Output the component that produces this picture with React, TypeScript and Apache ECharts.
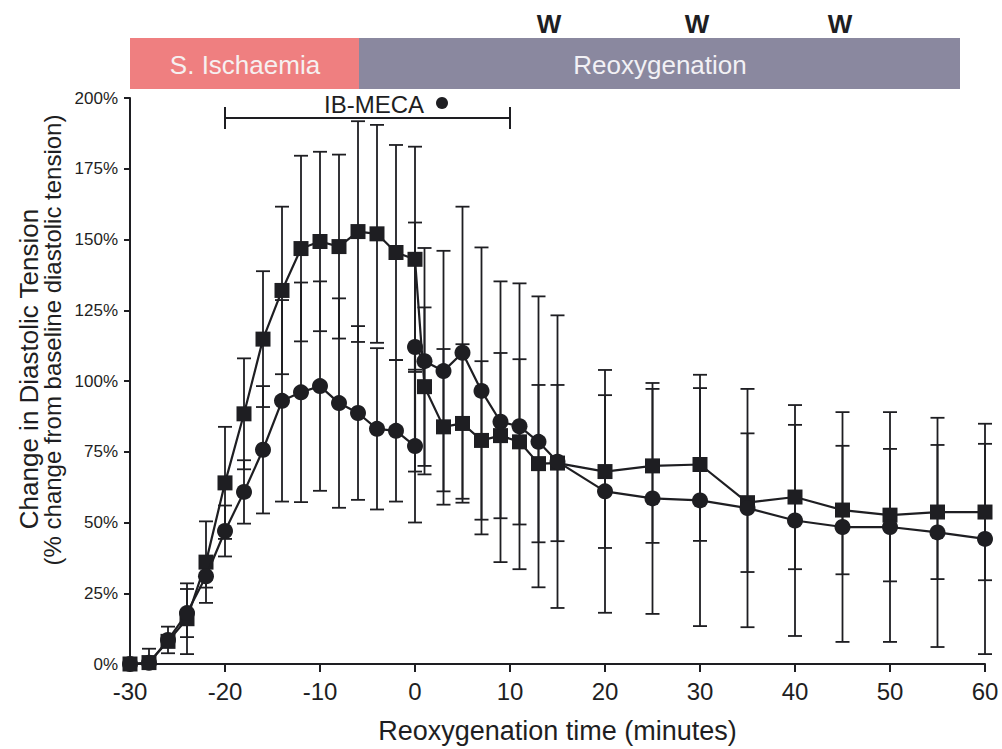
import React, { useEffect, useRef } from "react";
import * as echarts from "echarts";

// Time points (minutes relative to reoxygenation)
const controlTimes = [-30, -28, -26, -24, -22, -20, -18, -16, -14, -12, -10, -8, -6, -4, -2, 0, 1, 3, 5, 7, 9, 11, 13, 15, 20, 25, 30, 35, 40, 45, 50, 55, 60];
const controlMean = [0, 0.5, 8, 16, 36, 64, 88.4, 114.8, 132, 146.8, 149.3, 147.5, 152.8, 152, 145.4, 143, 98, 83.8, 85, 79, 80.7, 78.5, 70.8, 71, 68, 70, 70.5, 57, 59, 54.4, 52.6, 53.7, 53.7];
const controlErr = [0, 0, 0, 12.5, 14.4, 19.8, 19.6, 24, 29.6, 32.8, 31.7, 32.5, 39, 38.5, 38, 39.8, 28, 27.5, 28, 28, 29.2, 29.2, 27.8, 27.6, 27, 27.2, 27, 24.5, 25.5, 22.7, 23.4, 23.7, 24.1];

const mecaTimes = [-30, -28, -26, -24, -22, -20, -18, -16, -14, -12, -10, -8, -6, -4, -2, 0, 0, 1, 3, 5, 7, 9, 11, 13, 15, 20, 25, 30, 35, 40, 45, 50, 55, 60];
const mecaMean = [0, 0.4, 8.5, 18, 31, 47, 60.8, 75.7, 93, 96, 98.2, 92.2, 88.7, 83.1, 82.4, 77, 112, 107, 103.5, 110, 96.5, 85.6, 84, 78.5, 71.5, 61, 58.5, 57.8, 55.1, 50.7, 48.4, 48.4, 46.5, 44.2];
const mecaErr = [0, 5, 4.7, 8.5, 4, 9, 11.2, 22.5, 35.6, 38.8, 37, 37, 30.7, 28.5, 25, 27, 44, 40, 42.5, 51.6, 50.7, 49.6, 50.5, 51.4, 51.7, 42.9, 40.8, 44.4, 42.1, 40.8, 40.6, 40.6, 40.5, 40.7];

const drugStart = -20;
const drugEnd = 10;
// horizontal centres of the washout "W" markers above the protocol bar
const washoutX = [549, 697, 840];

const FONT = "'Liberation Sans', Arial, Helvetica, sans-serif";
const INK = "#1e1e22";

function errorRows(times: number[], mean: number[], err: number[]) {
  return times.map((t, i) => [t, mean[i] - err[i], mean[i] + err[i]]);
}

function errorBarSeries(rows: number[][]) {
  return {
    type: "custom",
    data: rows,
    encode: { x: 0, y: [1, 2] },
    z: 2,
    renderItem: (_params: any, api: any) => {
      const x = api.value(0);
      const lo = Math.max(0, api.value(1));
      const hi = api.value(2);
      if (hi - lo < 0.5) return { type: "group", children: [] };
      const top = api.coord([x, hi]);
      const bot = api.coord([x, lo]);
      const w = 7;
      const style = { stroke: INK, lineWidth: 1.8 };
      return {
        type: "group",
        children: [
          { type: "line", shape: { x1: top[0], y1: top[1], x2: bot[0], y2: bot[1] }, style },
          { type: "line", shape: { x1: top[0] - w, y1: top[1], x2: top[0] + w, y2: top[1] }, style },
          { type: "line", shape: { x1: bot[0] - w, y1: bot[1], x2: bot[0] + w, y2: bot[1] }, style },
        ],
      };
    },
  };
}

export default function App() {
  const ref = useRef<HTMLDivElement>(null);

  useEffect(() => {
    if (!ref.current) return;
    const chart = echarts.init(ref.current, null, { renderer: "svg" });

    const option: any = {
      animation: false,
      backgroundColor: "#ffffff",
      grid: { left: 130, right: 17, top: 98, bottom: 82 },
      xAxis: {
        type: "value",
        min: -30,
        max: 60,
        interval: 10,
        name: "Reoxygenation time (minutes)",
        nameLocation: "middle",
        nameGap: 53,
        nameTextStyle: { fontFamily: FONT, fontSize: 27, color: INK },
        axisLine: { onZero: false, lineStyle: { color: INK, width: 2 } },
        axisTick: { show: true, length: 8, lineStyle: { color: INK, width: 2 } },
        axisLabel: { fontFamily: FONT, fontSize: 24, color: INK, margin: 15 },
        splitLine: { show: false },
      },
      yAxis: {
        type: "value",
        min: 0,
        max: 200,
        interval: 25,
        axisLine: { show: true, onZero: false, lineStyle: { color: INK, width: 2 } },
        axisTick: { show: true, length: 6, lineStyle: { color: INK, width: 2 } },
        axisLabel: { fontFamily: FONT, fontSize: 17, color: INK, margin: 12, formatter: "{value}%" },
        splitLine: { show: false },
      },
      series: [
        errorBarSeries(errorRows(controlTimes, controlMean, controlErr)),
        errorBarSeries(errorRows(mecaTimes, mecaMean, mecaErr)),
        {
          name: "Control",
          type: "line",
          data: controlTimes.map((t, i) => [t, controlMean[i]]),
          symbol: "rect",
          symbolSize: 15,
          lineStyle: { color: INK, width: 2.2 },
          itemStyle: { color: INK },
          z: 3,
        },
        {
          name: "IB-MECA",
          type: "line",
          data: mecaTimes.map((t, i) => [t, mecaMean[i]]),
          symbol: "circle",
          symbolSize: 16,
          lineStyle: { color: INK, width: 2.2 },
          itemStyle: { color: INK },
          z: 4,
        },
      ],
    };
    chart.setOption(option);

    const px = (t: number) => chart.convertToPixel({ xAxisIndex: 0 }, t) as number;
    const x0 = px(drugStart);
    const x1 = px(drugEnd);
    const bracketY = 118;

    const graphic: any[] = [
      // protocol bar
      { type: "rect", shape: { x: 130, y: 38, width: 229, height: 51 }, style: { fill: "#ef7f80" } },
      { type: "rect", shape: { x: 359, y: 38, width: 601, height: 51 }, style: { fill: "#8a889f" } },
      {
        type: "text", x: 245, y: 65,
        style: { text: "S. Ischaemia", fontFamily: FONT, fontSize: 26, fill: "#f6f0f0", align: "center", verticalAlign: "middle" },
      },
      {
        type: "text", x: 660, y: 65,
        style: { text: "Reoxygenation", fontFamily: FONT, fontSize: 26, fill: "#f2f1f5", align: "center", verticalAlign: "middle" },
      },
      // drug perfusion bracket
      { type: "line", shape: { x1: x0, y1: bracketY, x2: x1, y2: bracketY }, style: { stroke: INK, lineWidth: 2 } },
      { type: "line", shape: { x1: x0, y1: bracketY - 11, x2: x0, y2: bracketY + 11 }, style: { stroke: INK, lineWidth: 2 } },
      { type: "line", shape: { x1: x1, y1: bracketY - 11, x2: x1, y2: bracketY + 11 }, style: { stroke: INK, lineWidth: 2 } },
      {
        type: "text", x: 374, y: 104,
        style: { text: "IB-MECA", fontFamily: FONT, fontSize: 24, fill: INK, align: "center", verticalAlign: "middle" },
      },
      { type: "circle", shape: { cx: 442, cy: 103, r: 6 }, style: { fill: INK } },
      // y-axis title
      {
        type: "text", x: 29, y: 369, rotation: Math.PI / 2,
        style: { text: "Change in Diastolic Tension", fontFamily: FONT, fontSize: 26, fill: INK, align: "center", verticalAlign: "middle" },
      },
      {
        type: "text", x: 52, y: 340, rotation: Math.PI / 2,
        style: { text: "(% change from baseline diastolic tension)", fontFamily: FONT, fontSize: 24, fill: INK, align: "center", verticalAlign: "middle" },
      },
      // washout markers
      ...washoutX.map((x) => ({
        type: "text", x, y: 24,
        style: { text: "W", fontFamily: FONT, fontSize: 26, fontWeight: "bold", fill: INK, align: "center", verticalAlign: "middle" },
      })),
    ];
    chart.setOption({ graphic });

    return () => chart.dispose();
  }, []);

  return (
    <div
      ref={ref}
      style={{ position: "fixed", left: 0, top: 0, width: 1002, height: 749, background: "#ffffff" }}
    />
  );
}
